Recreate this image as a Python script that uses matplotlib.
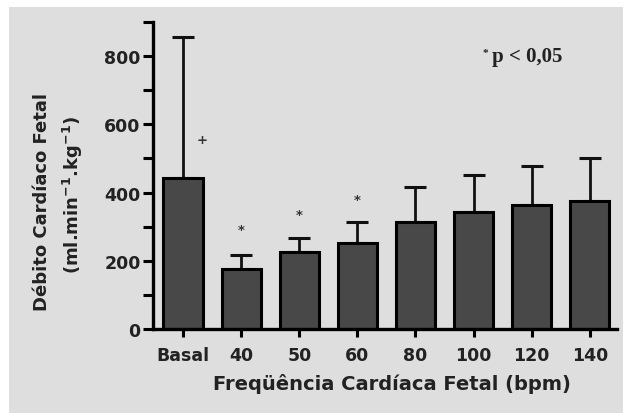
import matplotlib.pyplot as plt
import numpy as np
from matplotlib.patches import Rectangle
from matplotlib.ticker import MultipleLocator

# Dados (leitura aproximada da figura)
categorias = ['Basal', '40', '50', '60', '80', '100', '120', '140']
media = [442, 176, 225, 252, 313, 343, 364, 375]
erro_sup = [413, 41, 41, 61, 103, 108, 113, 125]
marcas = ['+', '*', '*', '*', '', '', '', '']
marca_y = [556, 293, 337, 381, 0, 0, 0, 0]

W, H = 625, 414
fonte = 'DejaVu Sans'
fig = plt.figure(figsize=(W / 100, H / 100), dpi=100, facecolor='white')
fig.patches.append(Rectangle((9 / W, 0), (W - 11) / W, (H - 8) / H,
                             transform=fig.transFigure, facecolor='#dedede',
                             edgecolor='none', zorder=-10))

# axes: y eixo em x=153, topo y=23, zero em y=330, direita x=617
ax = fig.add_axes([153 / W, (H - 330) / H, (617 - 153) / W, (330 - 23) / H])
ax.set_facecolor('none')

x = np.arange(len(categorias))
ax.bar(x, media, width=0.68, color='#484848', edgecolor='black', linewidth=2.2, zorder=2)
ax.errorbar(x, media, yerr=[np.zeros(len(x)), erro_sup], fmt='none', ecolor='#111111',
            elinewidth=2, capsize=8, capthick=2.2, zorder=1)

for xi, m, my in zip(x, marcas, marca_y):
    if m:
        ax.text(xi + (0.33 if m == '+' else 0), my, m, ha='center', va='center',
                fontsize=9.5, fontweight='bold', color='#333333', family=fonte)

# legenda do p-valor
ax.text(5.15, 810, '*', ha='left', va='center', fontsize=8, fontweight='bold',
        family='Liberation Serif', color='#222222')
ax.text(5.31, 800, 'p < 0,05', ha='left', va='center', fontsize=15, fontweight='bold',
        family='Liberation Serif', color='#222222')

ax.set_xlim(-0.52, 7.47)
ax.set_ylim(0, 900)
ax.yaxis.set_major_locator(MultipleLocator(200))
ax.yaxis.set_minor_locator(MultipleLocator(100))
ax.set_xticks(x)
ax.set_xticklabels(categorias)

for s in ['top', 'right']:
    ax.spines[s].set_visible(False)
for s in ['left', 'bottom']:
    ax.spines[s].set_linewidth(2.4)
    ax.spines[s].set_color('black')

ax.tick_params(axis='y', which='major', length=7, width=2.2, pad=2)
ax.tick_params(axis='y', which='minor', length=7, width=2.2)
ax.tick_params(axis='x', length=6, width=2.2, pad=6)
for lab in ax.get_xticklabels() + ax.get_yticklabels():
    lab.set_family(fonte)
    lab.set_fontweight('bold')
    lab.set_fontsize(12.5)
    lab.set_color('#222222')

fig.text(392 / W, 1 - 384 / H, 'Freqüência Cardíaca Fetal (bpm)', ha='center', va='center',
         fontsize=14, fontweight='bold', family=fonte, color='#222222')
fig.text(42 / W, 1 - 202 / H, 'Débito Cardíaco Fetal', rotation=90, ha='center', va='center',
         fontsize=13, fontweight='bold', family=fonte, color='#222222')
fig.text(73 / W, 1 - 195 / H, r'(ml.min$^{\mathbf{-1}}$.kg$^{\mathbf{-1}}$)', rotation=90,
         ha='center', va='center', fontsize=13, fontweight='bold', family=fonte,
         color='#222222')

fig.savefig('out.png', dpi=100, facecolor=fig.get_facecolor())
